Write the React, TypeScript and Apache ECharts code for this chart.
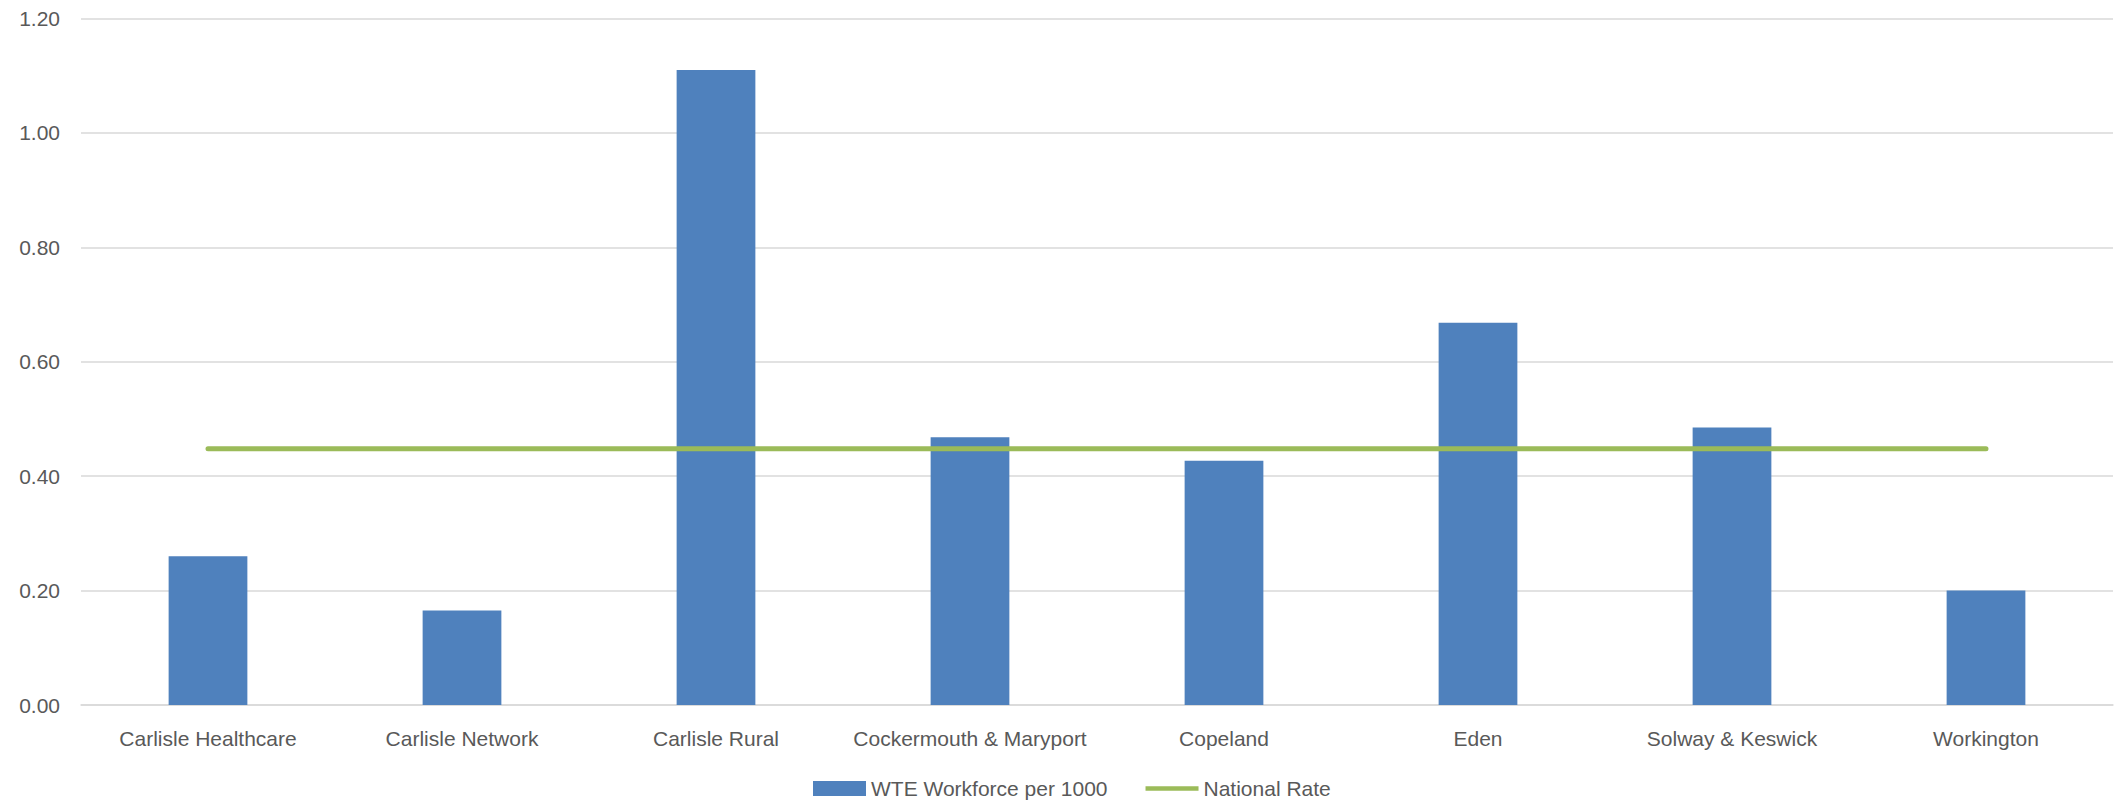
import React, { useEffect, useRef } from "react";
import * as echarts from "echarts";

// Primary care networks shown along the x axis
const categories = [
  "Carlisle Healthcare",
  "Carlisle Network",
  "Carlisle Rural",
  "Cockermouth & Maryport",
  "Copeland",
  "Eden",
  "Solway & Keswick",
  "Workington",
];

// Whole-time-equivalent workforce per 1000 population
const wteWorkforce = [0.26, 0.165, 1.11, 0.468, 0.427, 0.668, 0.485, 0.2];

// National benchmark, repeated for every network
const nationalRate = [0.448, 0.448, 0.448, 0.448, 0.448, 0.448, 0.448, 0.448];

const yTicks = { min: 0, max: 1.2, interval: 0.2 };

const FONT = "'Liberation Sans', Arial, sans-serif";
const TEXT = "#595959";
const GRID = "#D9D9D9";
const BLUE = "#4F81BD";
const GREEN = "#9BBB59";

export default function App() {
  const ref = useRef<HTMLDivElement>(null);

  useEffect(() => {
    if (!ref.current) return;
    const chart = echarts.init(ref.current, undefined, { renderer: "svg" });
    chart.setOption({
      animation: false,
      backgroundColor: "#ffffff",
      textStyle: { fontFamily: FONT },
      grid: { left: 81, right: 1, top: 18.5, bottom: 97, containLabel: false },
      legend: {
        left: 808,
        bottom: -2,
        itemWidth: 53,
        itemHeight: 15,
        itemGap: 38,
        textStyle: { color: TEXT, fontSize: 21, fontFamily: FONT },
        data: [
          { name: "WTE Workforce per 1000", icon: "rect" },
          { name: "National Rate", icon: "path://M0,0 L60,0 L60,5 L0,5 Z" },
        ],
      },
      xAxis: {
        type: "category",
        data: categories,
        axisLine: { show: true, lineStyle: { color: GRID, width: 1.5 } },
        axisTick: { show: false },
        axisLabel: {
          color: TEXT,
          fontSize: 21,
          fontFamily: FONT,
          margin: 23,
          interval: 0,
        },
      },
      yAxis: {
        type: "value",
        min: yTicks.min,
        max: yTicks.max,
        interval: yTicks.interval,
        axisLine: { show: false },
        axisTick: { show: false },
        splitLine: { lineStyle: { color: GRID, width: 1.5 } },
        axisLabel: {
          color: TEXT,
          fontSize: 21,
          fontFamily: FONT,
          margin: 21,
          formatter: (v: number) => v.toFixed(2),
        },
      },
      series: [
        {
          name: "WTE Workforce per 1000",
          type: "bar",
          data: wteWorkforce,
          barWidth: "31%",
          itemStyle: { color: BLUE },
        },
        {
          name: "National Rate",
          type: "line",
          data: nationalRate,
          symbol: "none",
          showSymbol: false,
          itemStyle: { color: GREEN },
          lineStyle: { color: GREEN, width: 5, cap: "round" },
          z: 3,
        },
      ],
    });
    return () => chart.dispose();
  }, []);

  return (
    <div
      ref={ref}
      style={{ position: "fixed", left: 0, top: 0, width: 2114, height: 802 }}
    />
  );
}
